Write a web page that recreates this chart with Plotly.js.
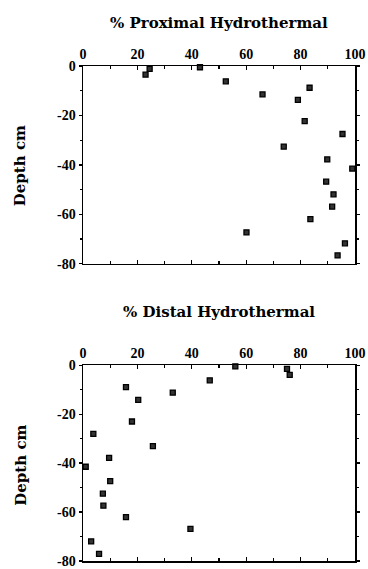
<!DOCTYPE html>
<html>
<head>
<meta charset="utf-8">
<script src="https://cdn.plot.ly/plotly-3.0.1.min.js"></script>
<style>html,body{margin:0;padding:0;background:#fff;}#chart{width:368px;height:569px;}</style>
</head>
<body>
<div id="chart"></div>
<script>
// % Proximal Hydrothermal vs depth
var proximalPct   = [24.5, 43, 23, 52.5, 83.3, 66, 79, 81.5, 95.4, 73.8, 89.8, 99, 89.4, 92.1, 91.6, 83.6, 60.1, 96.3, 93.6];
var proximalDepth = [-1.2, -0.5, -3.5, -6.2, -8.8, -11.5, -13.7, -22.3, -27.5, -32.6, -37.8, -41.5, -46.8, -51.9, -56.9, -61.9, -67.3, -71.7, -76.6];
// % Distal Hydrothermal vs depth
var distalPct   = [56, 75, 76, 46.6, 15.8, 33, 20.3, 18, 3.8, 25.7, 9.6, 1, 10, 7.3, 7.5, 15.8, 39.5, 3, 5.9];
var distalDepth = [-0.5, -1.5, -4, -6.2, -9.0, -11.2, -14.2, -23, -28.1, -33.1, -37.9, -41.5, -47.4, -52.5, -57.4, -62.1, -66.9, -72, -77.1];

var xTickVals = [0, 20, 40, 60, 80, 100];
var yTickVals = [0, -20, -40, -60, -80];
var titles = ['% Proximal Hydrothermal', '% Distal Hydrothermal'];
var yTitle = 'Depth cm';

var TICKFONT = 'Liberation Serif, serif';
var TITLEFONT = 'DejaVu Serif, serif';
var marker = {symbol: 'square', size: 5, color: '#333', line: {color: '#000', width: 1.3}};

var traces = [
  {x: proximalPct, y: proximalDepth, xaxis: 'x', yaxis: 'y', mode: 'markers', type: 'scatter', marker: marker, cliponaxis: false},
  {x: distalPct, y: distalDepth, xaxis: 'x2', yaxis: 'y2', mode: 'markers', type: 'scatter', marker: marker, cliponaxis: false}
];

function xAxis(anchor) {
  return {
    anchor: anchor, side: 'top', range: [0, 100], tickvals: xTickVals,
    ticktext: xTickVals.map(String),
    ticks: 'inside', ticklen: 4, tickwidth: 1.2, tickcolor: '#000',
    minor: {dtick: 10, tick0: 0, ticks: 'inside', ticklen: 3, tickcolor: '#000'},
    showline: true, linecolor: '#000', linewidth: 1.5, mirror: 'ticks',
    showgrid: false, zeroline: false, ticklabeloverflow: 'allow',
    tickfont: {family: TICKFONT, size: 14, color: '#000', weight: 'bold'}
  };
}
function yAxis(anchor, domain) {
  return {
    anchor: anchor, domain: domain, range: [-80, 0], tickvals: yTickVals,
    ticktext: yTickVals.map(String),
    ticks: 'outside', ticklen: 3, tickwidth: 1.2, tickcolor: '#000',
    minor: {dtick: 10, tick0: 0, ticks: 'outside', ticklen: 2, tickcolor: '#000'},
    showline: true, linecolor: '#000', linewidth: 1.5, mirror: 'ticks',
    showgrid: false, zeroline: false, ticklabeloverflow: 'allow',
    tickfont: {family: TICKFONT, size: 14, color: '#000', weight: 'bold'}
  };
}

var layout = {
  width: 368, height: 569,
  margin: {l: 82.5, r: 13, t: 65.5, b: 8},
  paper_bgcolor: '#fff', plot_bgcolor: '#fff',
  showlegend: false,
  xaxis: xAxis('y'),
  yaxis: yAxis('x', [0.6004, 1]),
  xaxis2: xAxis('y2'),
  yaxis2: yAxis('x2', [0, 0.3956]),
  annotations: [
    {text: titles[0], xref: 'paper', yref: 'paper', x: 0.5, y: 1.0878, xanchor: 'center', yanchor: 'middle', showarrow: false,
     font: {family: TITLEFONT, size: 15, color: '#000', weight: 'bold'}},
    {text: titles[1], xref: 'paper', yref: 'paper', x: 0.5, y: 0.5025, xanchor: 'center', yanchor: 'middle', showarrow: false,
     font: {family: TITLEFONT, size: 15, color: '#000', weight: 'bold'}},
    {text: yTitle, xref: 'paper', yref: 'paper', x: -0.229, y: 0.799, xanchor: 'center', yanchor: 'middle', textangle: -90, showarrow: false,
     font: {family: TITLEFONT, size: 15, color: '#000', weight: 'bold'}},
    {text: yTitle, xref: 'paper', yref: 'paper', x: -0.229, y: 0.194, xanchor: 'center', yanchor: 'middle', textangle: -90, showarrow: false,
     font: {family: TITLEFONT, size: 15, color: '#000', weight: 'bold'}}
  ]
};

Plotly.newPlot('chart', traces, layout, {displayModeBar: false, staticPlot: true});
</script>
</body>
</html>
